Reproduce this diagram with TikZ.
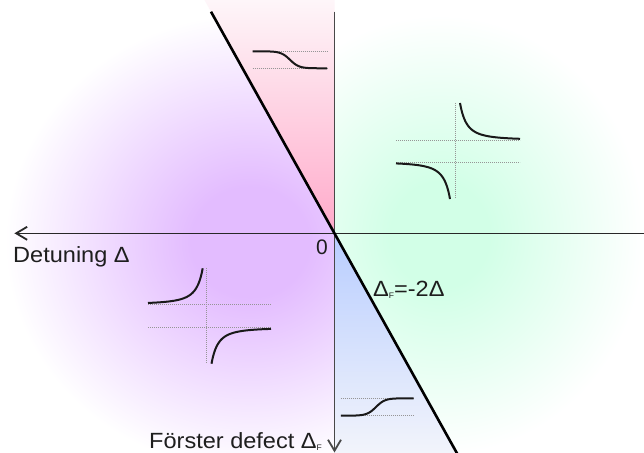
\documentclass[tikz,border=0pt]{standalone}
\usepackage{fontspec}
\setmainfont{Liberation Sans}
\usepackage{graphicx}
\usetikzlibrary{arrows.meta}
\definecolor{violetc}{RGB}{227,188,255}
\definecolor{greenc}{RGB}{210,255,231}
\definecolor{pinkc}{RGB}{255,170,202}
\definecolor{pinktop}{RGB}{254,246,249}
\definecolor{bluec}{RGB}{184,205,255}
\definecolor{bluebot}{RGB}{242,244,251}
\definecolor{axisc}{RGB}{40,40,40}
\definecolor{dotc}{RGB}{150,150,150}
\definecolor{txtc}{RGB}{30,30,30}
\pgfdeclareradialshading{purpshade}{\pgfpoint{0bp}{0bp}}{color(0bp)=(violetc); color(6bp)=(violetc); color(25bp)=(white); color(50bp)=(white)}
\pgfdeclareradialshading{greenshade}{\pgfpoint{0bp}{0bp}}{color(0bp)=(greenc); color(6bp)=(greenc); color(25bp)=(white); color(50bp)=(white)}
\newcommand\subF{\raisebox{-2bp}{\fontsize{8bp}{8bp}\selectfont F}}
\newcommand\wide[1]{\scalebox{1.07}[1]{#1}}
\begin{document}
\begin{tikzpicture}[x=1bp,y=-1bp,
  font=\fontsize{22bp}{26bp}\selectfont,
  axis/.style={line width=1.5bp, draw=axisc},
  diag/.style={line width=2.6bp, draw=black},
  guide/.style={line width=0.9bp, draw=dotc, dash pattern=on 0.9bp off 1.1bp},
  curve/.style={line width=2bp, draw=black!90},
  lbl/.style={inner sep=0pt, text=txtc},
  barb/.style={-{Straight Barb[length=11bp,width=13bp,line width=1.8bp]}}]
\useasboundingbox (0,0) rectangle (644,453);
\fill[white] (0,0) rectangle (644,453);
\coordinate (O) at (334.5,233.3);
% background regions
\begin{scope}
  \clip (0,0) -- (204.5,0) -- (O) -- (334.5,453) -- (0,453) -- cycle;
  \shade[shading=purpshade] (250,242) ellipse (245 and 228);
\end{scope}
\begin{scope}
  \clip (334.5,0) -- (644,0) -- (644,453) -- (456.9,453) -- (O) -- cycle;
  \shade[shading=greenshade] (440,235) ellipse (205 and 220);
\end{scope}
\shade[top color=pinktop, bottom color=pinkc] (204.5,0) -- (334.5,0) -- (O) -- cycle;
\shade[top color=bluec, bottom color=bluebot] (O) -- (334.5,453) -- (456.9,453) -- cycle;
% axes
\coordinate (Hend) at (644,233.3);
\coordinate (Htip) at (14.4,233.3);
\coordinate (Vtop) at (334.5,11.7);
\coordinate (Vtip) at (334.5,452.5);
\coordinate (Dtop) at (211,11.7);
\coordinate (Dbot) at (458.5,456);
\draw[axis, barb] (Hend) -- (Htip);
\draw[axis, draw=axisc!85!white, barb] (Vtop) -- (Vtip);
\draw[diag] (Dtop) -- (Dbot);
% top inset
\draw[guide] (252.7,51.3) -- (327,51.3);
\draw[guide] (252.7,68.3) -- (327,68.3);
\draw[curve] plot[domain=252.7:327,samples=80] (\x,{59.8+8.5*tanh((\x-290)/9)});
% bottom inset
\draw[guide] (340.9,398.3) -- (413.6,398.3);
\draw[guide] (340.9,415.7) -- (413.6,415.7);
\draw[curve] plot[domain=340.9:413.6,samples=80] (\x,{407-8.7*tanh((\x-376)/9)});
% right inset
\draw[guide] (396,140) -- (520,140);
\draw[guide] (396,162) -- (520,162);
\draw[guide] (455,103) -- (455,198);
\draw[curve] plot[domain=0:60,samples=80] ({460+\x},{140-6447/((\x+13.2)^2)});
\draw[curve] plot[domain=0:54,samples=80] ({450-\x},{162+6447/((\x+13.2)^2)});
% left inset
\draw[guide] (148,304.3) -- (271,304.3);
\draw[guide] (148,327.7) -- (271,327.7);
\draw[guide] (206.7,268) -- (206.7,363);
\draw[curve] plot[domain=0:54.7,samples=80] ({202.7-\x},{304.3-6273/((\x+13.2)^2)});
\draw[curve] plot[domain=0:59.5,samples=80] ({211.5+\x},{327.7+6273/((\x+13.2)^2)});
% labels
\node[lbl, anchor=base west] (det) at (13,263) {\wide{Detuning Δ}};
\node[lbl, anchor=base east, font=\fontsize{21bp}{24bp}\selectfont] (zero) at (328,255) {0};
\node[lbl, anchor=base west] (rel) at (373,297) {\wide{Δ\subF=-2Δ}};
\node[lbl, anchor=base west] (fd) at (149,448.5) {\wide{Förster defect Δ\subF}};
\end{tikzpicture}
\end{document}
